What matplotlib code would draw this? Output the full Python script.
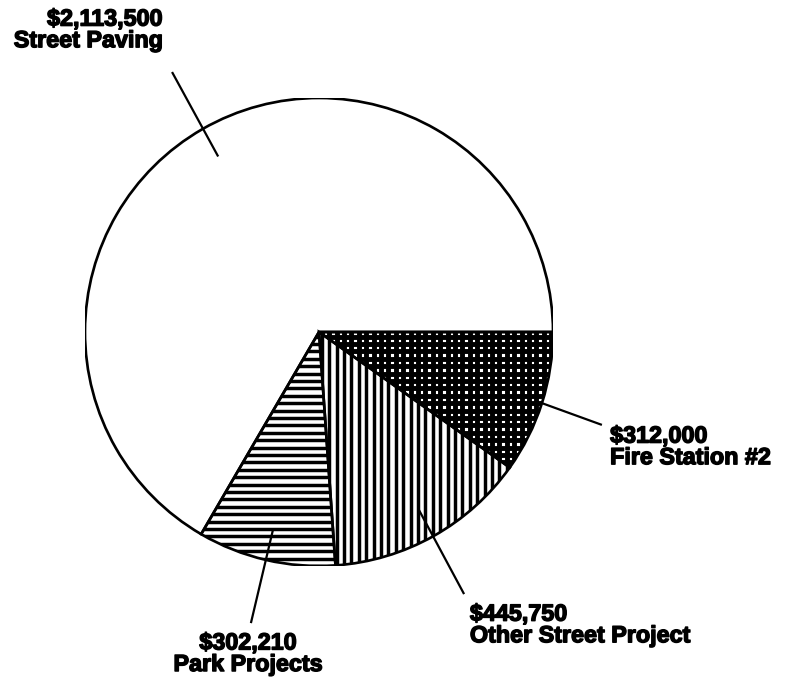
import numpy as np
import matplotlib
matplotlib.use("Agg")
import matplotlib.pyplot as plt
import matplotlib.patheffects as pe
from matplotlib.collections import LineCollection
from matplotlib.patches import Wedge

# Capital budget allocation
projects = ["Fire Station #2", "Other Street Project", "Park Projects", "Street Paving"]
amounts = [312000, 445750, 302210, 2113500]
# Fill pattern for each slice: h = horizontal rules, v = vertical rules
patterns = ["hv", "v", "h", ""]
pattern_lw = [4.4, 3.1, 3.1, 0.0]

# Label layout (pie radius units): text anchor, alignment, leader start radius, leader end
text_pos = [(1.244, -0.491), (0.645, -1.252), (-0.303, -1.375), (-0.667, 1.291)]
text_ha = ["left", "left", "center", "right"]
leader_r = [1.0, 0.87, 0.865, 0.865]
leader_end = [(1.209, -0.397), (0.620, -1.120), (-0.291, -1.244), (-0.628, 1.111)]

DPI = 80
W, H = 788, 686
fig = plt.figure(figsize=(W / DPI, H / DPI), dpi=DPI, facecolor="white")

cx, cy, R = 319, 332, 234
ax = fig.add_axes([(cx - R) / W, (H - cy - R) / H, 2 * R / W, 2 * R / H])

wedges, _ = ax.pie(
    amounts,
    startangle=0,
    counterclock=False,
    colors=["white"] * len(amounts),
    wedgeprops=dict(edgecolor="none", linewidth=0),
)

# ruled fills, clipped to each slice
step = 7.4 / R
grid = np.arange(-1.0, 1.0 + step, step)
for w, pat, lw in zip(wedges, patterns, pattern_lw):
    segs = []
    if "h" in pat:
        segs += [[(-1.05, g), (1.05, g)] for g in grid]
    if "v" in pat:
        segs += [[(g, -1.05), (g, 1.05)] for g in grid]
    if segs:
        lc = LineCollection(segs, colors="black", linewidths=lw, zorder=2,
                            capstyle="butt")
        ax.add_collection(lc)
        lc.set_clip_path(w)

# slice outlines on top
for w in wedges:
    ax.add_patch(Wedge(w.center, w.r, w.theta1, w.theta2, fill=False,
                       edgecolor="black", linewidth=2.4, zorder=3))

ax.set_xlim(-1, 1)
ax.set_ylim(-1, 1)
ax.axis("off")

stroke = [pe.withStroke(linewidth=1.3, foreground="black")]
for w, name, amt, (tx, ty), ha, r0, (ex, ey) in zip(
    wedges, projects, amounts, text_pos, text_ha, leader_r, leader_end
):
    mid = np.deg2rad((w.theta1 + w.theta2) / 2)
    sx, sy = r0 * np.cos(mid), r0 * np.sin(mid)
    ax.plot([sx, ex], [sy, ey], color="black", lw=2.0, zorder=4,
            solid_capstyle="butt", clip_on=False)
    ax.text(tx, ty, "\\$" + f"{amt:,}" + "\n" + name,
            ha=ha, va="center", multialignment=ha,
            fontsize=21, fontweight="bold", family="Liberation Sans",
            linespacing=0.92, color="black", path_effects=stroke,
            clip_on=False)

fig.savefig("out.png", dpi=DPI, facecolor="white")
